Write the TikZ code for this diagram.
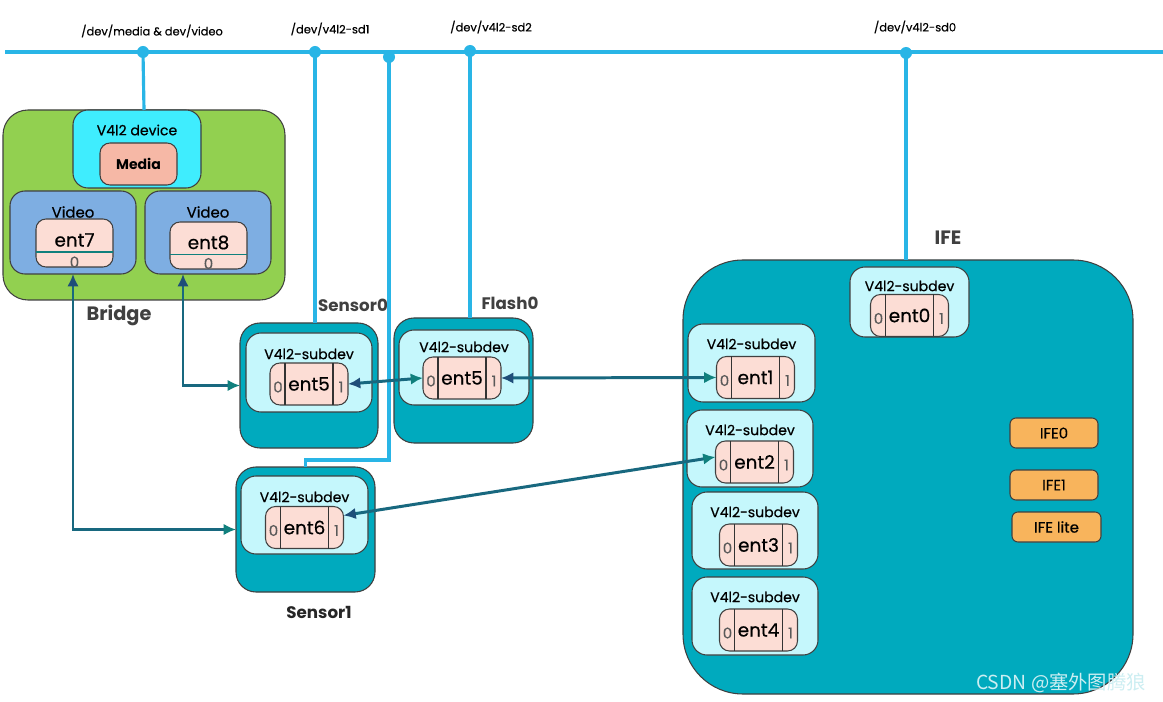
\documentclass[tikz,border=0pt]{standalone}
\usepackage{fontspec}
\setmainfont{Poppins}
\newfontfamily\medfont{Poppins}[FakeBold=0.5]
\newfontfamily\cjkfont{Noto Sans CJK SC}
\usepackage{xcolor}
\usepackage{tikz}
\usetikzlibrary{arrows.meta,calc,positioning}

\definecolor{busblue}{HTML}{29B5E6}
\definecolor{bridgegreen}{HTML}{92D050}
\definecolor{devcyan}{HTML}{3FEDFE}
\definecolor{mediasalmon}{HTML}{F6B8A6}
\definecolor{videoblue}{HTML}{7EAEE2}
\definecolor{entfill}{HTML}{FCDDD5}
\definecolor{tealbox}{HTML}{00AABE}
\definecolor{subfill}{HTML}{C5F7FC}
\definecolor{ifeorange}{HTML}{F8B45C}
\definecolor{linkdark}{HTML}{1F4E79}
\definecolor{linkteal}{HTML}{10807D}
\definecolor{linkmid}{HTML}{18687F}
\definecolor{labelgray}{HTML}{404040}

\begin{document}
\begin{tikzpicture}[x=0.02cm, y=-0.02cm,
  box/.style={draw=black!75, line width=0.6pt, inner sep=0pt, outer sep=0pt},
  sz/.style 2 args={minimum width={#1*0.02cm}, minimum height={#2*0.02cm}},
  bus/.style={busblue, line width=1.8pt},
  devlbl/.style={font=\medfont\fontsize{6.5}{8}\selectfont},
  sublbl/.style={font=\medfont\fontsize{8}{10}\selectfont},
  entlbl/.style={font=\medfont\fontsize{10.5}{12}\selectfont},
  port/.style={font=\medfont\fontsize{8.5}{10}\selectfont, text=black!65, inner sep=0pt},
  divider/.style={black!80, line width=0.6pt},
  grouplbl/.style={font=\bfseries\fontsize{11}{13}\selectfont, text=labelgray},
  dk/.tip={Latex[length=7pt,width=6.5pt,color=linkdark]},
  tl/.tip={Latex[length=7pt,width=6.5pt,color=linkteal]},
  link/.style={draw=linkmid, line width=1.7pt, dk-tl}]

\fill[white] (0,0) rectangle (1163,702);
\useasboundingbox (0,0) rectangle (1163,702);

% bus and device files
\coordinate (d1) at (143,52);
\coordinate (d2) at (315,52);
\coordinate (d3) at (389,57);
\coordinate (d4) at (470,51);
\coordinate (d5) at (906,53);
\draw[bus] (5,52) -- (1163,52);
\foreach \d in {d1,d2,d3,d4,d5}
  \fill[busblue] (\d) circle (0.12cm);

\node[devlbl] (lmedia) at (152,31) {/dev/media \& dev/video};
\node[devlbl] (lsd1) at (330,29) {/dev/v4l2-sd1};
\node[devlbl] (lsd2) at (491,27) {/dev/v4l2-sd2};
\node[devlbl] (lsd0) at (915,27) {/dev/v4l2-sd0};

% Bridge
\node[box, fill=bridgegreen, sz={282}{190}, rounded corners=0.5cm] (bridge) at (144,205) {};
\node[box, fill=devcyan, sz={128}{78}, rounded corners=0.3cm] (dev) at (137,149) {};
\node[sublbl] (tdev) at (137,130) {V4l2 device};
\node[box, fill=mediasalmon, sz={77}{42}, rounded corners=0.2cm, font=\bfseries\fontsize{8}{10}\selectfont] (media) at (138.5,164) {Media};
\node[box, fill=videoblue, sz={126}{83}, rounded corners=0.3cm] (v7) at (73,232.5) {};
\node[box, fill=videoblue, sz={126}{83}, rounded corners=0.3cm] (v8) at (208,232.5) {};
\node[sublbl, font=\medfont\fontsize{8.5}{10}\selectfont] (tv7) at (73,212) {Video};
\node[sublbl, font=\medfont\fontsize{8.5}{10}\selectfont] (tv8) at (208,212) {Video};

\node[box, fill=entfill, sz={77}{48}, rounded corners=0.2cm] (e7) at (74.5,243) {};
\node[entlbl] (te7) at (74.5,240) {ent7};
\draw[linkteal, line width=0.8pt] ($(e7.west)+(0,9)$) -- ($(e7.east)+(0,9)$);
\node[port] (e70) at ($(e7.center)+(0,19)$) {0};

\node[box, fill=entfill, sz={77}{47}, rounded corners=0.2cm] (e8) at (208.5,245.5) {};
\node[entlbl] (te8) at (208.5,242.5) {ent8};
\draw[linkteal, line width=0.8pt] ($(e8.west)+(0,9)$) -- ($(e8.east)+(0,9)$);
\node[port] (e80) at ($(e8.center)+(0,18)$) {0};

\node[grouplbl] (lbridge) at (119,315) {Bridge};

% Sensor0, Flash0, Sensor1, IFE
\node[box, fill=tealbox, sz={138}{125}, rounded corners=0.4cm] (s0box) at (309,385.5) {};
\node[box, fill=tealbox, sz={139}{125}, rounded corners=0.4cm] (f0box) at (463.5,380.5) {};
\node[box, fill=tealbox, sz={139}{125}, rounded corners=0.4cm] (s1box) at (305.5,529.5) {};
\node[box, fill=tealbox, sz={450}{434}, rounded corners=1.2cm] (ife) at (908,477) {};

\node[grouplbl, font=\bfseries\fontsize{9.5}{11}\selectfont] (ls0) at (353,305) {Sensor0};
\node[grouplbl, font=\bfseries\fontsize{9.5}{11}\selectfont] (lf0) at (510,303) {Flash0};
\node[grouplbl, font=\bfseries\fontsize{9.5}{11}\selectfont, text=black!85] (ls1) at (319,612) {Sensor1};
\node[grouplbl] (life) at (948,238) {IFE};

% bus drops
\draw[bus] (d1) -- (bridge.north);
\draw[bus] (d2) -- (d2 |- s0box.north);
\draw[bus] (d3) -- ++(0,403) -| (s1box.north);
\draw[bus] (d4) -- (d4 |- f0box.north);
\draw[bus] (d5) -- (d5 |- ife.north);

% subdev boxes
\foreach \n/\x/\y/\w/\h/\ly in {s0in/309/372.5/126/79/354, f0in/464/367.5/130/75/347,
    s1in/304.5/515/127/78/497, i0in/909.5/302/119/70/286, i1in/751.5/363/127/78/344,
    i2in/750/448.5/126/77/430, i3in/755/530.5/126/77/512, i4in/755/616/126/78/597} {
  \node[box, fill=subfill, sz={\w}{\h}, rounded corners=0.3cm] (\n) at (\x,\y) {};
  \node[sublbl] (\n-t) at (\x,\ly) {V4l2-subdev};
}

% entities with pads
\foreach \n/\x/\y/\t in {s0e/309/384/ent5, f0e/462/378/ent5, s1e/304.5/527.5/ent6,
    i0e/909.5/315.5/ent0, i1e/755.5/377.5/ent1, i2e/754.5/462/ent2,
    i3e/758.5/545/ent3, i4e/758.5/630/ent4} {
  \node[box, fill=entfill, sz={78}{42}, rounded corners=0.2cm, entlbl] (\n) at (\x,\y) {\t};
  \draw[divider] ($(\n.north)+(-24,0)$) -- ($(\n.south)+(-24,0)$);
  \draw[divider] ($(\n.north)+(24,0)$) -- ($(\n.south)+(24,0)$);
  \node[port] (\n0) at ($(\n.center)+(-31,3)$) {0};
  \node[port] (\n1) at ($(\n.center)+(32,3)$) {1};
}

% IFE blocks
\node[box, fill=ifeorange, sz={88}{30}, rounded corners=0.12cm, font=\medfont\fontsize{8.5}{10}\selectfont] (ife0) at (1054,433) {IFE0};
\node[box, fill=ifeorange, sz={88}{30}, rounded corners=0.12cm, font=\medfont\fontsize{8.5}{10}\selectfont] (ife1) at (1054,485) {IFE1};
\node[box, fill=ifeorange, sz={89}{30}, rounded corners=0.12cm, font=\medfont\fontsize{8.5}{10}\selectfont] (ifelite) at (1056.5,527) {IFE lite};

% links
\draw[link] (v7.south) |- (s1box.west);
\draw[link] ($(v8.south)+(-25,0)$) |- (s0box.west);
\draw[link] (s0e.east) -- (f0e.west);
\draw[link] (f0e.east) -- (i1e.west);
\draw[link] ($(s1e.east)+(0,-12)$) -- ($(i2e.west)+(0,-5)$);

\node[text=white!80!tealbox, font=\cjkfont\fontsize{11}{13}\selectfont] (csdn) at (1061,683) {CSDN @塞外图腾狼};
\end{tikzpicture}
\end{document}
